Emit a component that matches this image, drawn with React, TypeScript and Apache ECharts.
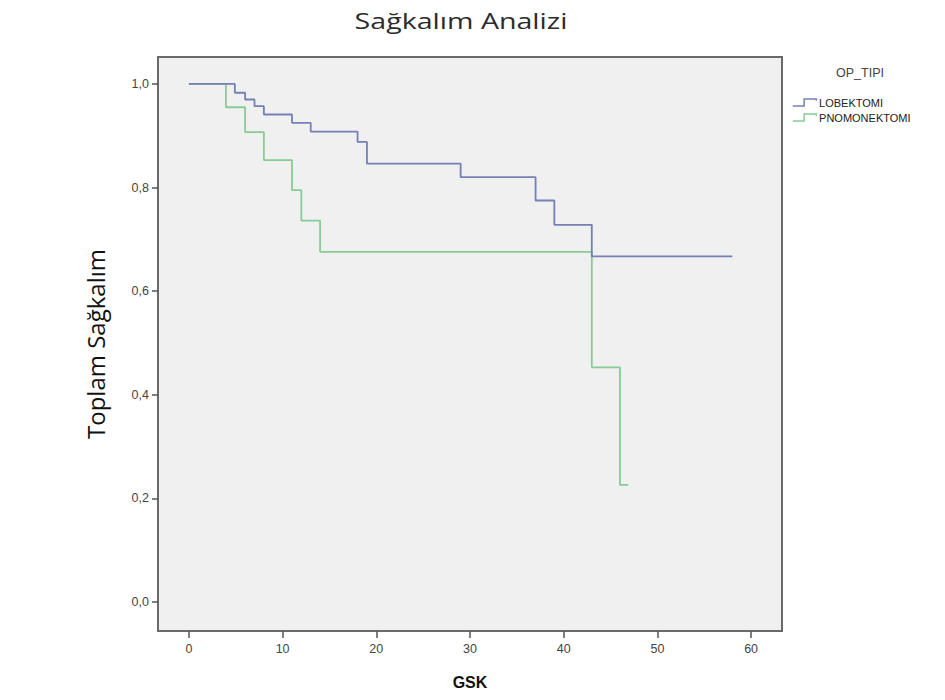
import React, { useEffect, useRef } from "react";
import * as echarts from "echarts";

const TITLE = "Sağkalım Analizi";
const X_NAME = "GSK";
const Y_NAME = "Toplam Sağkalım";
const LEGEND_TITLE = "OP_TIPI";
const SERIES_NAMES = ["LOBEKTOMI", "PNOMONEKTOMI"];

const LOB_T = [0, 4.9, 6, 7, 8, 11, 13, 18, 19, 29, 37, 39, 43, 58];
const LOB_S = [1.0, 0.983, 0.97, 0.957, 0.941, 0.925, 0.908, 0.888, 0.846, 0.82, 0.775, 0.728, 0.667, 0.667];
const PNO_T = [0, 3.95, 6, 8, 11, 12, 14, 43, 46, 46.9];
const PNO_S = [1.0, 0.955, 0.907, 0.853, 0.795, 0.736, 0.676, 0.453, 0.226, 0.226];

const X_TICKS = [0, 10, 20, 30, 40, 50, 60];
const Y_TICKS = [0, 0.2, 0.4, 0.6, 0.8, 1.0];

const BLUE = "#7580b5";
const GREEN = "#86cc96";

export default function App() {
  const ref = useRef<HTMLDivElement>(null);
  useEffect(() => {
    document.body.style.margin = "0";
    const chart = echarts.init(ref.current!, null, { renderer: "svg" });
    const stepIcon = "path://M0,8 L13,8 L13,0 L27,0 L27,2";
    chart.setOption({
      animation: false,
      backgroundColor: "#ffffff",
      legend: {
        orient: "vertical",
        left: 787,
        top: 92,
        itemWidth: 27,
        itemHeight: 7,
        itemGap: 4,
        icon: stepIcon,
        textStyle: { fontFamily: "Liberation Sans", fontSize: 11, color: "#222", padding: [0, 0, 0, -4] },
        data: [
          { name: SERIES_NAMES[0], itemStyle: { color: "rgba(0,0,0,0)", borderColor: BLUE, borderWidth: 1.5 } },
          { name: SERIES_NAMES[1], itemStyle: { color: "rgba(0,0,0,0)", borderColor: GREEN, borderWidth: 1.5 } },
        ],
      },
      graphic: [
        {
          type: "text",
          x: 461,
          y: 20,
          scaleX: 1.3,
          style: {
            text: TITLE,
            fontFamily: "Open Sans",
            fontSize: 22,
            fill: "#2b2b2b",
            align: "center",
            verticalAlign: "middle",
          },
        },
        {
          type: "text",
          x: 860,
          y: 73,
          style: {
            text: LEGEND_TITLE,
            fontFamily: "Liberation Sans",
            fontSize: 12.5,
            fill: "#444",
            align: "center",
            verticalAlign: "middle",
          },
        },
      ],
      grid: {
        left: 158,
        right: 163,
        top: 57,
        bottom: 69,
        show: true,
        backgroundColor: "#f0f0f0",
        borderColor: "#6a6a6a",
        borderWidth: 2,
        containLabel: false,
      },
      xAxis: {
        type: "value",
        min: -3.3,
        max: 63.3,
        name: X_NAME,
        nameLocation: "middle",
        nameGap: 43,
        nameTextStyle: { fontFamily: "Liberation Sans", fontWeight: "bold", fontSize: 16, color: "#111" },
        splitLine: { show: false },
        axisLine: { show: false, onZero: false },
        axisTick: { show: true, length: 7, customValues: X_TICKS, lineStyle: { color: "#555", width: 1.5 } },
        axisLabel: {
          customValues: X_TICKS,
          margin: 11,
          fontFamily: "Liberation Sans",
          fontSize: 12.5,
          color: "#444",
        },
      },
      yAxis: {
        type: "value",
        min: -0.056,
        max: 1.052,
        name: Y_NAME,
        nameLocation: "middle",
        nameGap: 51,
        nameTextStyle: { fontFamily: "Open Sans", fontSize: 24, color: "#111" },
        splitLine: { show: false },
        axisLine: { show: false, onZero: false },
        axisTick: { show: true, length: 6, customValues: Y_TICKS, lineStyle: { color: "#555", width: 1.5 } },
        axisLabel: {
          customValues: Y_TICKS,
          margin: 9,
          fontFamily: "Liberation Sans",
          fontSize: 12.5,
          color: "#444",
          formatter: (v: number) => v.toFixed(1).replace(".", ","),
        },
      },
      series: [
        {
          name: SERIES_NAMES[0],
          type: "line",
          step: "end",
          symbol: "none",
          data: LOB_T.map((t, i) => [t, LOB_S[i]]),
          lineStyle: { color: BLUE, width: 1.8 },
          itemStyle: { color: BLUE },
          z: 3,
        },
        {
          name: SERIES_NAMES[1],
          type: "line",
          step: "end",
          symbol: "none",
          data: PNO_T.map((t, i) => [t, PNO_S[i]]),
          lineStyle: { color: GREEN, width: 1.8 },
          itemStyle: { color: GREEN },
          z: 2,
        },
      ],
    });
    return () => chart.dispose();
  }, []);
  return <div ref={ref} style={{ width: 945, height: 700 }} />;
}
